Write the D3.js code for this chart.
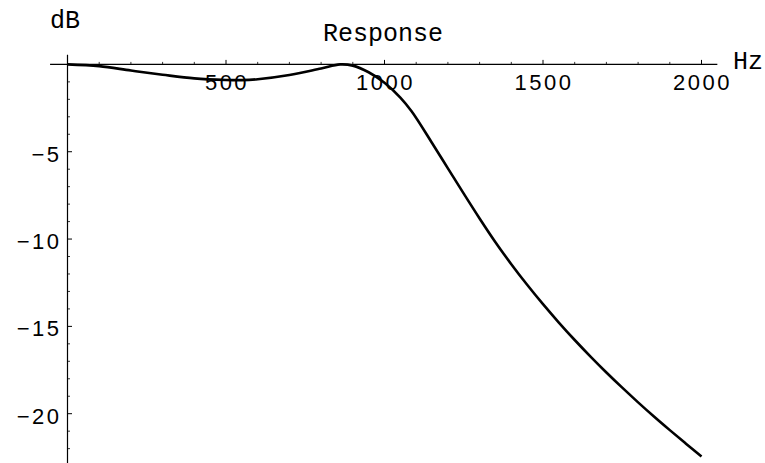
<!DOCTYPE html>
<html>
<head>
<meta charset="utf-8">
<title>Response</title>
<script src="https://cdn.jsdelivr.net/npm/d3@7"></script>
<style>
body { margin: 0; background: #fff; }
.lbl { font-family: "Liberation Mono", monospace; font-size: 25px; fill: #000; }
.tick-lbl { font-family: "Liberation Sans", sans-serif; font-size: 22px; fill: #000; letter-spacing: 2.5px; }
</style>
</head>
<body>
<script>

// frequency (Hz) and response (dB)
var freq = [0, 100, 200, 300, 400, 500, 550, 600, 700, 800, 860, 900, 950, 1000, 1050, 1086,
            1150, 1200, 1250, 1300, 1350, 1400, 1450, 1500, 1550, 1600, 1650, 1700, 1750,
            1800, 1850, 1900, 1950, 2000];
var gain = [0, -0.1, -0.35, -0.59, -0.8, -0.89, -0.9, -0.85, -0.61, -0.23, 0, -0.07, -0.45, -1.05, -1.9, -2.7,
            -4.5, -5.95, -7.4, -8.82, -10.18, -11.44, -12.62, -13.73, -14.78, -15.78, -16.73, -17.64, -18.51,
            -19.35, -20.16, -20.94, -21.7, -22.45];

var xTicks = [500, 1000, 1500, 2000];
var yTicks = [-5, -10, -15, -20];

var width = 765, height = 463;

var x = d3.scaleLinear().domain([0, 2000]).range([67.5, 701.5]);
var y = d3.scaleLinear().domain([0, -20]).range([64.4, 413.7]);

var svg = d3.select("body").append("svg")
    .attr("width", width)
    .attr("height", height);

// x axis (at 0 dB), ticks point up
var xMinor = d3.range(100, 2001, 100).filter(function(d) { return d % 500 != 0; });
var xAxis = svg.append("g").attr("transform", "translate(0," + y(0) + ")");
xAxis.append("line")
    .attr("x1", x(-55)).attr("x2", x(2050))
    .attr("stroke", "#000").attr("stroke-width", 1.2);
xAxis.selectAll(".minor").data(xMinor).enter().append("line")
    .attr("x1", function(d) { return x(d); }).attr("x2", function(d) { return x(d); })
    .attr("y1", 0).attr("y2", -2.5)
    .attr("stroke", "#000").attr("stroke-width", 0.8);
xAxis.selectAll(".major").data(xTicks).enter().append("line")
    .attr("x1", function(d) { return x(d); }).attr("x2", function(d) { return x(d); })
    .attr("y1", 0).attr("y2", -4.5)
    .attr("stroke", "#000").attr("stroke-width", 1);
xAxis.selectAll("text").data(xTicks).enter().append("text")
    .attr("class", "tick-lbl")
    .attr("x", function(d) { return x(d) + 1; })
    .attr("y", 26)
    .attr("text-anchor", "middle")
    .text(function(d) { return d; });

// y axis (at 0 Hz), ticks point right
var yMinor = d3.range(-1, -23, -1).filter(function(d) { return d % 5 != 0; });
var yAxis = svg.append("g").attr("transform", "translate(" + x(0) + ",0)");
yAxis.append("line")
    .attr("y1", y(0.55)).attr("y2", height)
    .attr("stroke", "#000").attr("stroke-width", 1.2);
yAxis.selectAll(".minor").data(yMinor).enter().append("line")
    .attr("y1", function(d) { return y(d); }).attr("y2", function(d) { return y(d); })
    .attr("x1", 0).attr("x2", 2.5)
    .attr("stroke", "#000").attr("stroke-width", 0.8);
yAxis.selectAll(".major").data(yTicks).enter().append("line")
    .attr("y1", function(d) { return y(d); }).attr("y2", function(d) { return y(d); })
    .attr("x1", 0).attr("x2", 4.5)
    .attr("stroke", "#000").attr("stroke-width", 1);
yAxis.selectAll("text").data(yTicks).enter().append("text")
    .attr("class", "tick-lbl")
    .attr("x", -6)
    .attr("y", function(d) { return y(d) + 10; })
    .attr("text-anchor", "end")
    .text(function(d) { return "\u2212" + Math.abs(d); });

// response curve
var pts = freq.map(function(f, i) { return [f, gain[i]]; });
var line = d3.line()
    .x(function(d) { return x(d[0]); })
    .y(function(d) { return y(d[1]); })
    .curve(d3.curveCatmullRom.alpha(0.5));
svg.append("path")
    .datum(pts)
    .attr("d", line)
    .attr("fill", "none")
    .attr("stroke", "#000")
    .attr("stroke-width", 2.6);

// labels
svg.append("text").attr("class", "lbl").attr("x", 50).attr("y", 28).text("dB");
svg.append("text").attr("class", "lbl").attr("x", 383).attr("y", 41)
    .attr("text-anchor", "middle").text("Response");
svg.append("text").attr("class", "lbl").attr("x", 733).attr("y", 69).text("Hz");

</script>
</body>
</html>
